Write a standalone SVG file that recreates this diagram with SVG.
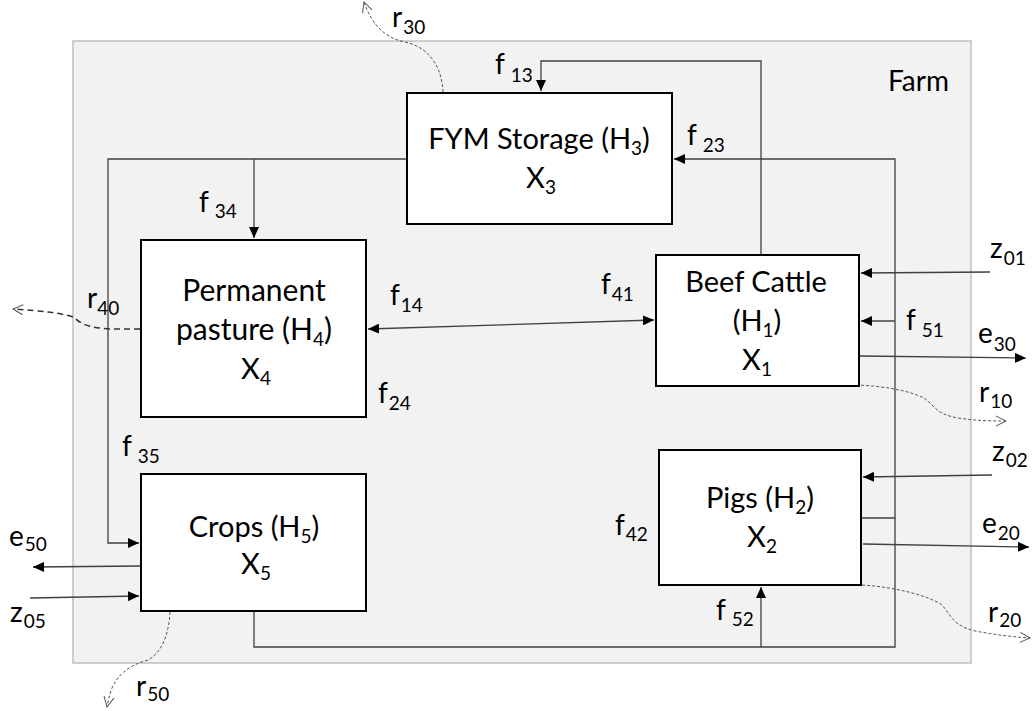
<svg xmlns="http://www.w3.org/2000/svg" width="1033" height="711" viewBox="0 0 1033 711">
<style>
.box{fill:#fff;stroke:#000;stroke-width:2}
.t{font-family:Lato,"Liberation Sans",sans-serif;font-size:29px;fill:#000;text-anchor:middle}
.l{font-family:Lato,"Liberation Sans",sans-serif;font-size:28px;fill:#000}
.s{font-size:19px}
.c{fill:none;stroke:#404040;stroke-width:1.3}
.d{fill:none;stroke:#555;stroke-width:1;stroke-dasharray:3 2}
.d2{fill:none;stroke:#333;stroke-width:1.5;stroke-dasharray:6 4}
</style>
<defs>
<marker id="a" markerUnits="userSpaceOnUse" markerWidth="12" markerHeight="10" refX="11" refY="5" orient="auto-start-reverse"><path d="M0,0 L11,5 L0,10 z" fill="#000"/></marker>
<marker id="o" markerUnits="userSpaceOnUse" markerWidth="14" markerHeight="14" refX="11" refY="6" orient="auto"><path d="M1,1 L11,6 L1,11" fill="none" stroke="#555" stroke-width="1"/></marker>
</defs>
<rect x="73" y="41" width="898" height="622" fill="#f2f2f2" stroke="#c0c0c0" stroke-width="1.5"/>
<text class="l" x="888" y="91">Farm</text>
<g id="connectors">
<path class="c" d="M407,159 H108 V543 H139" marker-end="url(#a)"/>
<path class="c" d="M254,159 V238" marker-end="url(#a)"/>
<path class="c" d="M761,255 V61 H541 V91" marker-end="url(#a)"/>
<path class="c" d="M861,518 H895 V159 H674" marker-end="url(#a)"/>
<path class="c" d="M895,321 H861" marker-end="url(#a)"/>
<path class="c" d="M254,611 V647 H895 V518"/>
<path class="c" d="M761,647 V587" marker-end="url(#a)"/>
<path class="c" d="M368,329 L654,320" marker-start="url(#a)" marker-end="url(#a)"/>
<path class="c" d="M990,272 L861,273" marker-end="url(#a)"/>
<path class="c" d="M860,356 L1026,358" marker-end="url(#a)"/>
<path class="c" d="M992,475 L863,477" marker-end="url(#a)"/>
<path class="c" d="M863,544 L1029,547" marker-end="url(#a)"/>
<path class="c" d="M143,566 L33,567" marker-end="url(#a)"/>
<path class="c" d="M30,598 L139,596" marker-end="url(#a)"/>
<path class="d" d="M443,92 C442,70 432,48 405,42 C385,38 372,25 364,2" marker-end="url(#o)"/>
<path class="d" d="M856,385 C885,386 910,391 924,398 C936,407 936,414 958,418 C978,421 992,421 1006,421" marker-end="url(#o)"/>
<path class="d" d="M862,585 C895,587 925,595 941,604 C951,614 951,625 975,631 C997,635 1013,637 1030,638" marker-end="url(#o)"/>
<path class="d" d="M170,612 C169,632 163,652 148,660 C130,665 118,674 112,688 C109,696 108,702 107,707" marker-end="url(#o)"/>
<path class="d2" d="M140,329 L110,329 C95,328 82,326 75,318 C65,313 40,311 13,309" marker-end="url(#o)"/>
</g>
<g id="fym">
<rect class="box" x="407" y="93" width="265" height="131"/>
<text class="t" x="539" y="149">FYM Storage (H<tspan class="s" dy="6">3</tspan><tspan dy="-6">)</tspan></text>
<text class="t" x="541" y="188">X<tspan class="s" dy="6">3</tspan></text>
</g>
<g id="pasture">
<rect class="box" x="141" y="240" width="225" height="177"/>
<text class="t" x="254" y="301" style="font-size:30px">Permanent</text>
<text class="t" x="254" y="340" style="font-size:30px">pasture (H<tspan class="s" dy="6">4</tspan><tspan dy="-6">)</tspan></text>
<text class="t" x="256" y="379">X<tspan class="s" dy="6">4</tspan></text>
</g>
<g id="crops">
<rect class="box" x="141" y="474" width="225" height="137"/>
<text class="t" x="254" y="537">Crops (H<tspan class="s" dy="6">5</tspan><tspan dy="-6">)</tspan></text>
<text class="t" x="256" y="574">X<tspan class="s" dy="6">5</tspan></text>
</g>
<g id="beef">
<rect class="box" x="656" y="255" width="203" height="131"/>
<text class="t" x="756" y="292">Beef Cattle</text>
<text class="t" x="757" y="331">(H<tspan class="s" dy="6">1</tspan><tspan dy="-6">)</tspan></text>
<text class="t" x="757" y="370">X<tspan class="s" dy="6">1</tspan></text>
</g>
<g id="pigs">
<rect class="box" x="659" y="450" width="202" height="135"/>
<text class="t" x="760" y="508">Pigs (H<tspan class="s" dy="6">2</tspan><tspan dy="-6">)</tspan></text>
<text class="t" x="762" y="547">X<tspan class="s" dy="6">2</tspan></text>
</g>
<g id="labels">
<text class="l" x="392" y="27">r<tspan class="s" dx="1" dy="7">30</tspan></text>
<text class="l" x="495" y="74">f<tspan class="s" dx="6" dy="8">13</tspan></text>
<text class="l" x="687" y="145">f<tspan class="s" dx="6" dy="7">23</tspan></text>
<text class="l" x="199" y="212">f<tspan class="s" dx="6" dy="6">34</tspan></text>
<text class="l" x="87" y="308">r<tspan class="s" dx="0" dy="7">40</tspan></text>
<text class="l" x="390" y="305">f<tspan class="s" dx="1" dy="7">14</tspan></text>
<text class="l" x="601" y="294">f<tspan class="s" dx="1" dy="7">41</tspan></text>
<text class="l" x="378" y="403">f<tspan class="s" dx="1" dy="7">24</tspan></text>
<text class="l" x="122" y="456">f<tspan class="s" dx="6" dy="7">35</tspan></text>
<text class="l" x="906" y="330">f<tspan class="s" dx="6" dy="7">51</tspan></text>
<text class="l" x="990" y="258">z<tspan class="s" dx="1" dy="7">01</tspan></text>
<text class="l" x="978" y="343">e<tspan class="s" dx="1" dy="8">30</tspan></text>
<text class="l" x="979" y="402">r<tspan class="s" dx="1" dy="6">10</tspan></text>
<text class="l" x="992" y="461">z<tspan class="s" dx="1" dy="6">02</tspan></text>
<text class="l" x="615" y="535">f<tspan class="s" dx="1" dy="6">42</tspan></text>
<text class="l" x="982" y="533">e<tspan class="s" dx="1" dy="7">20</tspan></text>
<text class="l" x="716" y="620">f<tspan class="s" dx="6" dy="6">52</tspan></text>
<text class="l" x="988" y="622">r<tspan class="s" dx="1" dy="5">20</tspan></text>
<text class="l" x="9" y="546">e<tspan class="s" dx="1" dy="5">50</tspan></text>
<text class="l" x="10" y="622">z<tspan class="s" dx="1" dy="6">05</tspan></text>
<text class="l" x="136" y="696">r<tspan class="s" dx="1" dy="5">50</tspan></text>
</g>
</svg>
